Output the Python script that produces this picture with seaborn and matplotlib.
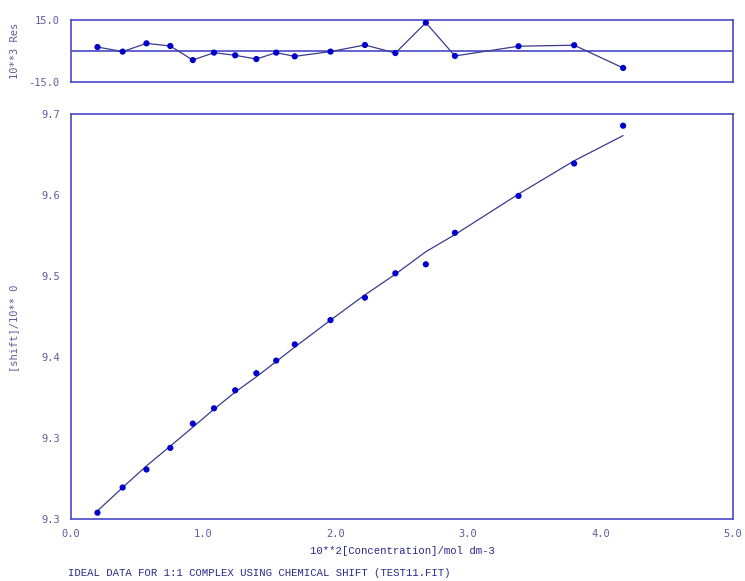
"""Residual + fit plot for 1:1 complex chemical shift data (TEST11.FIT)."""
import matplotlib
matplotlib.use("Agg")
import matplotlib.pyplot as plt
import numpy as np
import pandas as pd
import seaborn as sns

# concentration (10**2 mol dm-3)
conc = [0.20, 0.39, 0.57, 0.75, 0.92, 1.08, 1.24, 1.40, 1.55, 1.69,
        1.96, 2.22, 2.45, 2.68, 2.90, 3.38, 3.80, 4.17]
# observed shift
shift_obs = [9.257, 9.285, 9.305, 9.329, 9.356, 9.373, 9.393, 9.412, 9.426, 9.444,
             9.471, 9.496, 9.523, 9.533, 9.568, 9.609, 9.645, 9.687]
# calculated (fitted) shift
shift_fit = [9.259, 9.285, 9.309, 9.331, 9.352, 9.372, 9.391, 9.408, 9.425, 9.441,
             9.471, 9.499, 9.522, 9.547, 9.566, 9.611, 9.648, 9.676]
# residuals x 10**3
resid = [1.9, -0.3, 3.7, 2.4, -4.4, -0.8, -2.1, -3.9, -0.8, -2.6,
         -0.3, 2.9, -1.0, 13.7, -2.4, 2.3, 2.8, -8.2]

x_ticks = [0.0, 1.0, 2.0, 3.0, 4.0, 5.0]
x_ticklabels = ["0.0", "1.0", "2.0", "3.0", "4.0", "5.0"]
y_ticks = [9.25, 9.34, 9.43, 9.52, 9.61, 9.70]
y_ticklabels = ["9.3", "9.3", "9.4", "9.5", "9.6", "9.7"]
res_ticks = [-15.0, 15.0]
res_ticklabels = ["-15.0", "15.0"]

df = pd.DataFrame({"conc": conc, "obs": shift_obs, "fit": shift_fit, "res": resid})

sns.set_style("white")
plt.rcParams["font.family"] = ["DejaVu Sans Mono", "DejaVu Sans"]

AX_COL = "#4848c8"
TXT_COL = "#5c5c9c"
PT_COL = "#0000cc"
LN_COL = "#3a3a8e"

fig = plt.figure(figsize=(7.45, 5.81), dpi=100)
ax_r = fig.add_axes([0.0953, 0.8589, 0.8886, 0.1067])
ax = fig.add_axes([0.0953, 0.1067, 0.8886, 0.6971])

# residual panel
ax_r.axhline(0, color=AX_COL, lw=1.2)
sns.lineplot(data=df, x="conc", y="res", ax=ax_r, color=LN_COL, lw=0.9,
             estimator=None, sort=False)
sns.scatterplot(data=df, x="conc", y="res", ax=ax_r, color=PT_COL, s=20,
                edgecolor="none", zorder=3)
ax_r.set_xlim(0, 5)
ax_r.set_ylim(-15, 15)
ax_r.set_xticks([])
ax_r.set_yticks(res_ticks)
ax_r.set_yticklabels(res_ticklabels)
ax_r.set_xlabel("")
ax_r.set_ylabel("10**3 Res", color=TXT_COL, fontsize=7.5, labelpad=6)

# main panel
sns.lineplot(data=df, x="conc", y="fit", ax=ax, color=LN_COL, lw=0.9,
             estimator=None, sort=False)
sns.scatterplot(data=df, x="conc", y="obs", ax=ax, color=PT_COL, s=20,
                edgecolor="none", zorder=3)
ax.set_xlim(0, 5)
ax.set_ylim(9.25, 9.70)
ax.set_xticks(x_ticks)
ax.set_xticklabels(x_ticklabels)
ax.set_yticks(y_ticks)
ax.set_yticklabels(y_ticklabels)
ax.set_xlabel("10**2[Concentration]/mol dm-3", color="#2a2a8a", fontsize=7.7,
              family="Liberation Mono", labelpad=5)
ax.set_ylabel("[shift]/10** 0", color=TXT_COL, fontsize=7.5, labelpad=18)
ax.yaxis.set_label_coords(-0.079, 0.47)

for a in (ax, ax_r):
    for sp in a.spines.values():
        sp.set_color(AX_COL)
        sp.set_linewidth(1.2)
    a.tick_params(colors=AX_COL, labelcolor=TXT_COL, labelsize=7.5,
                  direction="in", width=1.2)
    a.grid(False)

ax.tick_params(axis="y", length=13, pad=8)
ax.tick_params(axis="x", length=8, pad=7)
ax_r.tick_params(axis="y", length=0, pad=8)

fig.text(0.091, 0.009, "IDEAL DATA FOR 1:1 COMPLEX USING CHEMICAL SHIFT (TEST11.FIT)",
         family="Liberation Mono", fontsize=7.7, color="#2a2a8a")

fig.savefig("out.png", dpi=100)
